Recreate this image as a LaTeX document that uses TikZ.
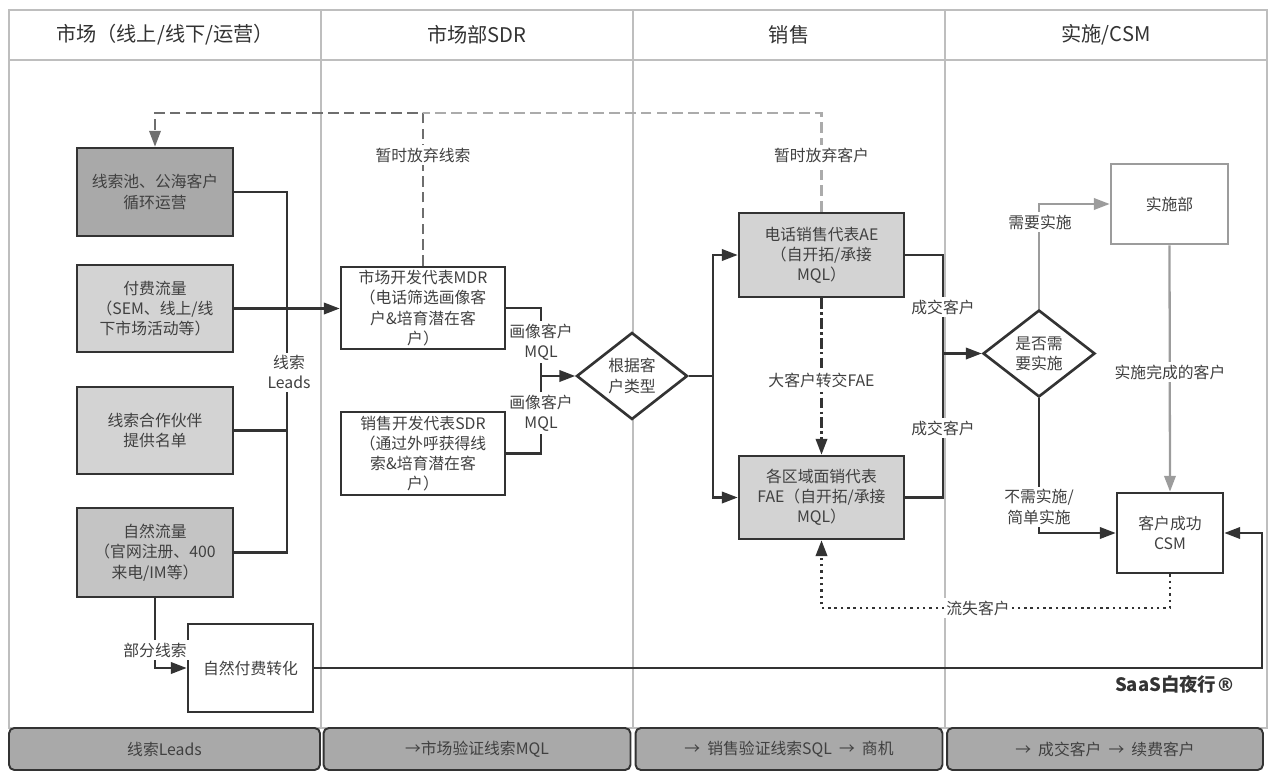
\documentclass[tikz,border=0pt]{standalone}
\usepackage{fontspec}
\setmainfont{Noto Sans CJK SC}
\newfontfamily\symfont{DejaVu Sans}
\usepackage{tikz}
\usetikzlibrary{arrows.meta,shapes.geometric}
\definecolor{ink}{HTML}{333333}
\definecolor{txt}{HTML}{404040}
\definecolor{lanegray}{HTML}{BEBEBE}
\definecolor{fillA}{HTML}{A9A9A9}
\definecolor{fillB}{HTML}{D3D3D3}
\definecolor{fillC}{HTML}{C4C4C4}
\definecolor{soft}{HTML}{9C9C9C}
\definecolor{dashA}{HTML}{6E6E6E}
\definecolor{dashB}{HTML}{ABABAB}
\tikzset{
  proc/.style={draw=ink, line width=1.5pt, align=center, text=txt, inner sep=0pt,
    font=\fontsize{9}{11.5}\selectfont},
  decide/.style={proc, diamond, aspect=1.3},
  lbl/.style={fill=white, align=center, text=txt, inner sep=1.5pt,
    font=\fontsize{9}{11.5}\selectfont},
  flow/.style={draw=ink, line width=1.3pt},
  arr/.style={-{Triangle[length=9pt,width=6.5pt]}},
  lane/.style={draw=lanegray, line width=1pt},
  head/.style={text=ink, font=\fontsize{11.5}{14}\selectfont},
  stage/.style={draw=ink, line width=1.1pt, fill=fillA, rounded corners=3pt,
    minimum height=0.84cm, text=txt, font=\fontsize{9}{11}\selectfont}
}

\begin{document}
\begin{tikzpicture}[x=0.02cm, y=-0.02cm]
  \useasboundingbox (0,0) rectangle (1278,781);
  \draw[lane] (9,10) rectangle (1267,728);
  \draw[lane] (9,60) -- (1267,60);
  \foreach \x in {321,633,945} \draw[lane] (\x,10) -- (\x,728);
  \node[head] (hmkt) at (165,35) {市场（线上/线下/运营）};
  \node[head] (hsdr) at (477,35) {市场部SDR};
  \node[head] (hsale) at (789,35) {销售};
  \node[head] (hcsm) at (1106,35) {实施/CSM};

  \node[proc, fill=fillA, minimum width=3.12cm, minimum height=1.76cm] (pool) at (155,192) {线索池、公海客户\\循环运营};
  \node[proc, fill=fillB, minimum width=3.12cm, minimum height=1.74cm] (paid) at (155,308.5) {付费流量\\（SEM、线上/线\\下市场活动等）};
  \node[proc, fill=fillB, minimum width=3.12cm, minimum height=1.74cm] (partner) at (155,430.5) {线索合作伙伴\\提供名单};
  \node[proc, fill=fillC, minimum width=3.12cm, minimum height=1.78cm] (organic) at (155,552.5) {自然流量\\（官网注册、400\\来电/IM等）};
  \node[proc, fill=white, minimum width=2.5cm, minimum height=1.76cm] (selfpay) at (250.5,668) {自然付费转化};
  \node[proc, fill=white, minimum width=3.28cm, minimum height=1.64cm] (mdr) at (423,308) {市场开发代表MDR\\（电话筛选画像客\\户\&培育潜在客\\户）};
  \node[proc, fill=white, minimum width=3.28cm, minimum height=1.66cm] (sdr) at (423,453.5) {销售开发代表SDR\\（通过外呼获得线\\索\&培育潜在客\\户）};
  \node[decide, fill=white, minimum width=2.22cm, minimum height=1.74cm] (type) at (632,376) {根据客\\户类型};
  \node[proc, fill=fillB, minimum width=3.3cm, minimum height=1.68cm] (ae) at (821.5,255) {电话销售代表AE\\（自开拓/承接\\MQL）};
  \node[proc, fill=fillB, minimum width=3.3cm, minimum height=1.66cm] (fae) at (821.5,497.5) {各区域面销代表\\FAE（自开拓/承接\\MQL）};
  \node[decide, fill=white, minimum width=2.24cm, minimum height=1.74cm] (need) at (1039,353.5) {是否需\\要实施};
  \node[proc, draw=soft, fill=white, minimum width=2.34cm, minimum height=1.6cm] (impl) at (1169.5,204) {实施部};
  \node[proc, fill=white, minimum width=2.12cm, minimum height=1.6cm] (csm) at (1170,533) {客户成功\\CSM};

  \coordinate (leadtop) at (287,192);
  \coordinate (leadbot) at (287,552.5);
  \coordinate (mqlj) at (541,376);
  \coordinate (sbus) at (713,376);
  \coordinate (dbus) at (943,353.5);
  \coordinate (rtn) at (1262,668);
  \coordinate (fbl) at (155,113);
  \coordinate (fbm) at (423,113);
  \coordinate (fbr) at (821.5,113);
  \coordinate (lostr) at (1170,608);
  \coordinate (lostl) at (821.5,608);

  \draw[flow] (pool.east) -- (leadtop) -- (leadbot) -- (organic.east);
  \draw[flow] (partner.east) -- (partner.east -| leadtop);
  \draw[flow, arr] (paid.east) -- (paid.east -| mdr.west);
  \draw[flow, arr] (organic.south) |- (selfpay.west);
  \draw[flow, arr] (selfpay.east) -- (rtn) |- (csm.east);
  \draw[line width=1.2pt, draw=dashA, dash pattern=on 6pt off 3pt, arr] (mdr.north) -- (fbm) -- (fbl) -- (pool.north);
  \draw[line width=1.2pt, draw=dashB, dash pattern=on 6pt off 3pt] (ae.north) -- (fbr) -- (fbm);
  \draw[flow] (mdr.east) -| (mqlj);
  \draw[flow] (sdr.east) -| (mqlj);
  \draw[flow, arr] (mqlj) -- (type.west);
  \draw[flow, arr] (type.east) -- (sbus) |- (ae.west);
  \draw[flow, arr] (sbus) |- (fae.west);
  \draw[flow, dash pattern=on 6pt off 2pt on 1.3pt off 2pt, arr] (ae.south) -- (fae.north);
  \draw[flow] (ae.east) -| (dbus);
  \draw[flow] (fae.east) -| (dbus);
  \draw[flow, arr] (dbus) -- (need.west);
  \draw[flow, draw=soft, arr] (need.north) |- (impl.west);
  \draw[flow, draw=soft, arr] (impl.south) -- (csm.north);
  \draw[flow, arr] (need.south) |- (csm.west);
  \draw[flow, line width=1.4pt, dash pattern=on 1.4pt off 2.2pt, arr] (csm.south) -- (lostr) -- (lostl) -- (fae.south);

  \node[lbl] (leadslbl) at (289,372) {线索\\Leads};
  \node[lbl] (partlbl) at (155,650) {部分线索};
  \node[lbl] (giveup1) at (423,155) {暂时放弃线索};
  \node[lbl] (giveup2) at (821.5,155) {暂时放弃客户};
  \node[lbl] (mql1) at (541,342) {画像客户\\MQL};
  \node[lbl] (mql2) at (541,413) {画像客户\\MQL};
  \node[lbl] (big) at (821.5,380) {大客户转交FAE};
  \node[lbl] (deal1) at (943,307) {成交客户};
  \node[lbl] (deal2) at (943,428) {成交客户};
  \node[lbl] (needlbl) at (1040,222) {需要实施};
  \node[lbl] (done) at (1170,372) {实施完成的客户};
  \node[lbl] (noneed) at (1039,507) {不需实施/\\简单实施};
  \node[lbl] (lost) at (978,608) {流失客户};
  \node[text=ink, anchor=east, font=\fontsize{10.5}{12}\selectfont\bfseries] (brand) at (1241,684) {SaaS白夜行{\symfont ®}};

  \node[stage, minimum width=6.22cm] (s1) at (164.5,749) {线索Leads};
  \node[stage, minimum width=6.14cm] (s2) at (477,749) {→市场验证线索MQL};
  \node[stage, minimum width=6.14cm] (s3) at (789,749) {→~~销售验证线索SQL~~→~~商机};
  \node[stage, minimum width=6.32cm] (s4) at (1105,749) {→~~成交客户~~→~~续费客户};
\end{tikzpicture}
\end{document}
